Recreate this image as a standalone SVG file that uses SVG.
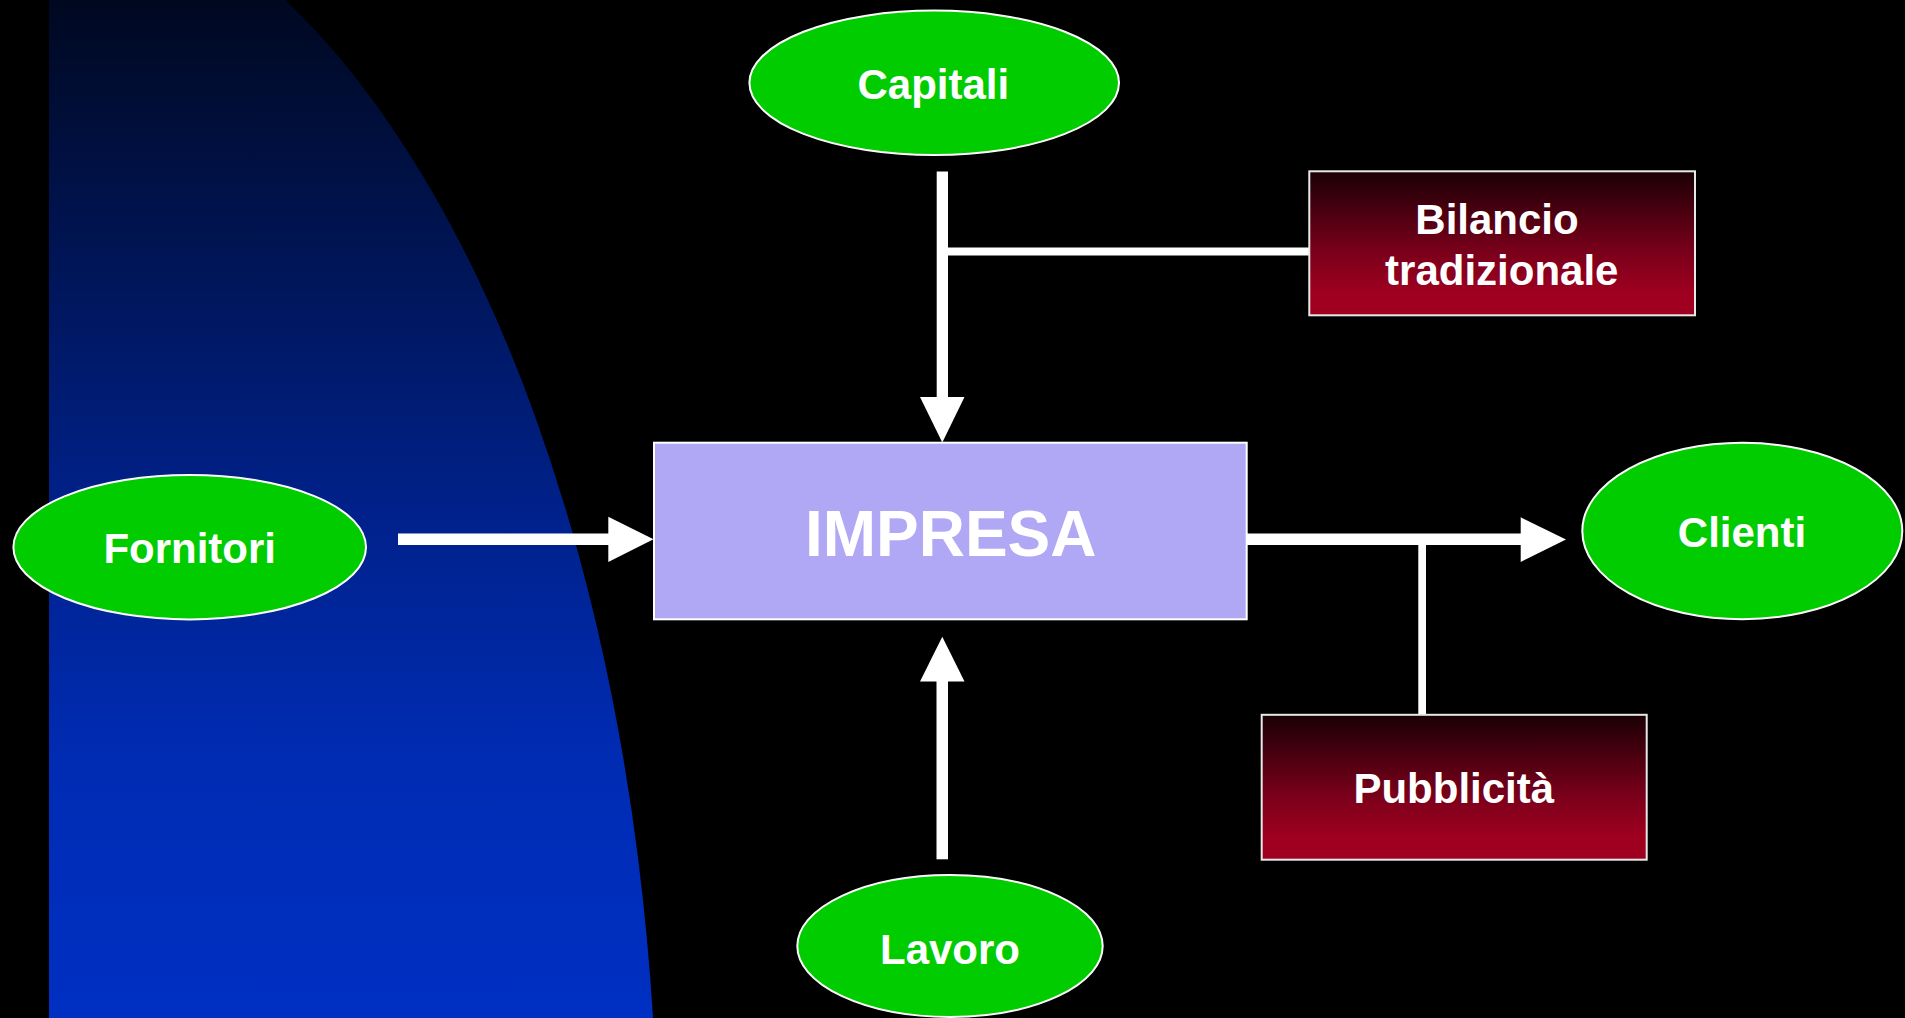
<svg xmlns="http://www.w3.org/2000/svg" width="1905" height="1018" viewBox="0 0 1905 1018">
<defs>
<linearGradient id="blueGrad" x1="0" y1="0" x2="0" y2="1">
<stop offset="0" stop-color="#000820"/>
<stop offset="0.5" stop-color="#00218a"/>
<stop offset="0.75" stop-color="#002cb4"/>
<stop offset="1" stop-color="#0030c2"/>
</linearGradient>
<linearGradient id="redGrad" x1="0" y1="0" x2="0" y2="1">
<stop offset="0" stop-color="#1a0005"/>
<stop offset="0.55" stop-color="#78001a"/>
<stop offset="0.85" stop-color="#a00020"/>
<stop offset="1" stop-color="#a00020"/>
</linearGradient>
<style>
.oval{fill:#00cc00;stroke:#ffffff;stroke-width:2}
.box{fill:url(#redGrad);stroke:#e8e8e8;stroke-width:2}
.main{fill:#b0a7f5;stroke:#ffffff;stroke-width:2}
.lbl{font-family:"Liberation Sans",Arial,sans-serif;font-weight:bold;font-size:42px;fill:#ffffff;text-anchor:middle}
.big{font-size:64px}
.wire{fill:#ffffff;stroke:none}
</style>
</defs>
<rect x="0" y="0" width="1905" height="1018" fill="#000000"/>
<path id="backdrop" d="M49,0 L285.7,0 A657.8,1304.5 0 0 1 653,1018 L49,1018 Z" fill="url(#blueGrad)"/>
<g id="connectors">
<rect class="wire" x="936.7" y="171.5" width="11.3" height="226"/>
<polygon class="wire" points="920,397 964.5,397 942.3,442.5"/>
<rect class="wire" x="948" y="247.5" width="362" height="8"/>
<rect class="wire" x="398" y="533.5" width="211" height="11.5"/>
<polygon class="wire" points="608.3,516.7 608.3,562 653.5,539.3"/>
<rect class="wire" x="1246.7" y="533.5" width="274.5" height="11.5"/>
<polygon class="wire" points="1520.7,517.3 1520.7,562 1566,539.5"/>
<rect class="wire" x="1418.3" y="545" width="7.7" height="170"/>
<rect class="wire" x="936.5" y="681" width="11.5" height="178.3"/>
<polygon class="wire" points="920,681.6 964.5,681.6 942.3,636.7"/>
</g>
<g id="capitali">
<ellipse class="oval" cx="934.2" cy="82.8" rx="184.8" ry="72.2"/>
<text class="lbl" x="933.3" y="99.3">Capitali</text>
</g>
<g id="bilancio">
<rect class="box" x="1309.3" y="171.3" width="385.7" height="144"/>
<text class="lbl" x="1497" y="233.8">Bilancio</text>
<text class="lbl" x="1501.8" y="284.5">tradizionale</text>
</g>
<g id="fornitori">
<ellipse class="oval" cx="189.7" cy="547.2" rx="176.3" ry="72.2"/>
<text class="lbl" x="189.7" y="562.7">Fornitori</text>
</g>
<g id="impresa">
<rect class="main" x="654" y="442.7" width="592.7" height="176.6"/>
<text class="lbl big" x="950.7" y="555.7">IMPRESA</text>
</g>
<g id="clienti">
<ellipse class="oval" cx="1742.3" cy="531" rx="160" ry="88.3"/>
<text class="lbl" x="1742" y="547.3">Clienti</text>
</g>
<g id="pubblicita">
<rect class="box" x="1261.7" y="714.8" width="385" height="144.9"/>
<text class="lbl" x="1453.8" y="803.1">Pubblicità</text>
</g>
<g id="lavoro">
<ellipse class="oval" cx="950" cy="946" rx="152.7" ry="71"/>
<text class="lbl" x="950" y="964">Lavoro</text>
</g>
</svg>
